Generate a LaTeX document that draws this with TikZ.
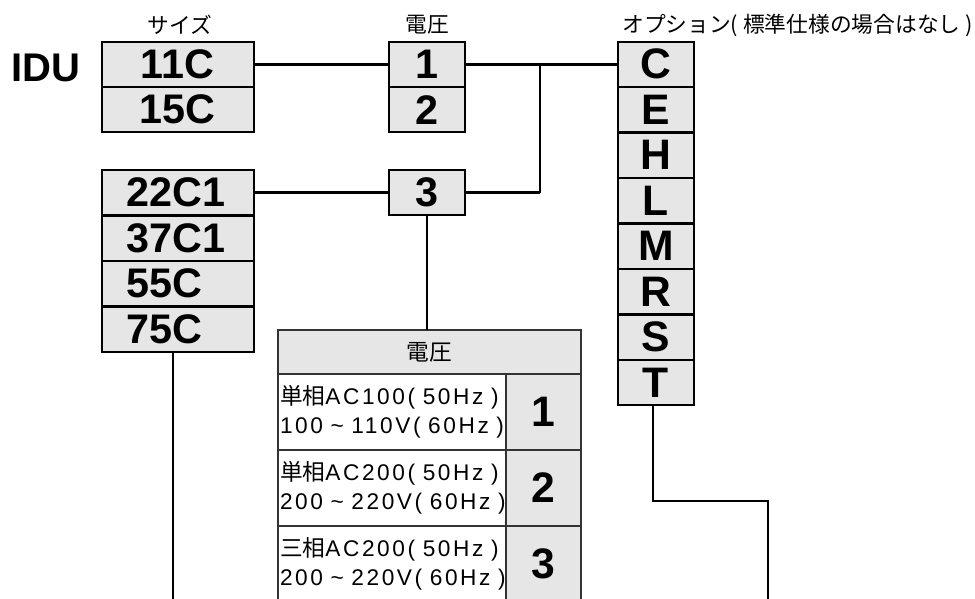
\documentclass[tikz,border=0pt]{standalone}
\usepackage{fontspec}
\setmainfont{Liberation Sans}
\newfontfamily\jp{Noto Sans CJK JP}
\newfontfamily\wide[LetterSpace=11.5]{Liberation Sans}
\usetikzlibrary{positioning}

\definecolor{boxgray}{HTML}{E6E6E6}
\definecolor{tabline}{HTML}{333333}

\begin{document}
\begin{tikzpicture}[x=0.75pt,y=-0.75pt,
  code/.style={draw,line width=1.5pt,fill=boxgray,inner sep=0pt,outer sep=0pt,
    minimum height=34.1pt,font=\bfseries\fontsize{31}{31}\selectfont},
  sizebox/.style={code,minimum width=114pt},
  lowbox/.style={text width=76pt,inner xsep=19pt,align=left},
  voltbox/.style={code,minimum width=57pt},
  optbox/.style={code,minimum width=57pt,font=\bfseries\fontsize{32}{32}\selectfont},
  head/.style={font=\jp\fontsize{16.3}{18}\selectfont,inner sep=0pt},
  tabcell/.style={draw=tabline,line width=1.1pt,inner sep=0pt,outer sep=0pt,minimum height=57pt},
  link/.style={line width=2.2pt},
  drop/.style={line width=1.5pt}]

\useasboundingbox (0,0) rectangle (975,599);

% The titles
\node[font=\bfseries\fontsize{30}{30}\selectfont,inner sep=0pt] (idu) at (46,68) {IDU};
\node[head] (tsize) at (180,25) {サイズ};
\node[head] (tvolt) at (427,25) {電圧};
\node[head,anchor=west] (topt) at (622,25) {オプション( 標準仕様の場合はなし )};

% The size boxes
\node[sizebox] (s11) at (177.5,64.25) {11C};
\node[sizebox] (s15) at (177.5,109.75) {15C};
\foreach \sz [count=\i from 0] in {22C1,37C1,55C,75C}
  \node[sizebox,lowbox] (s\sz) at (177.5,192.75+45.5*\i) {\sz};

% The voltage boxes
\node[voltbox] (v1) at (427,64.25) {1};
\node[voltbox] (v2) at (427,109.75) {2};
\node[voltbox] (v3) at (427,192.75) {3};

% The option boxes
\foreach \opt [count=\i from 0] in {C,E,H,L,M,R,S,T}
  \node[optbox] (o\opt) at (656,64.25+45.5*\i) {\opt};

% The voltage table
\node[tabcell,fill=boxgray,minimum width=227.25pt,minimum height=33pt,
  font=\jp\fontsize{17}{18}\selectfont] (th) at (429.5,352) {電圧};
\foreach \n/\y/\kind/\a/\b in {1/412/単相/AC100( 50Hz )/100 \textasciitilde{} 110V( 60Hz ),
  2/488/単相/AC200( 50Hz )/200 \textasciitilde{} 220V( 60Hz ),
  3/564/三相/AC200( 50Hz )/200 \textasciitilde{} 220V( 60Hz )}
{
  \node[tabcell,fill=white,minimum width=171pt,text width=168pt,inner xsep=1.5pt,
    align=left,font=\wide\fontsize{17}{21.5}\selectfont] (r\n) at (392,\y)
    {\mbox{{\jp\kind}\a}\\\mbox{\b}};
  \node[tabcell,fill=boxgray,minimum width=56.25pt,
    font=\bfseries\fontsize{32}{32}\selectfont] (n\n) at (543.5,\y) {\n};
}

% The connectors
\coordinate (j) at (540,64.25);
\coordinate (end1) at (173,599);
\coordinate (turn) at (768,501);
\coordinate (end2) at (768,599);
\draw[link] (s11.east) -- (v1.west);
\draw[link] (v1.east) -- (oC.west);
\draw[link] (s22C1.east) -- (v3.west);
\draw[link] (v3.east) -- (j |- v3.east);
\draw[drop] (j |- v3.east) -- (j);
\draw[drop] (v3.south) -- (v3.south |- th.north);
\draw[drop] (s75C.south -| end1) -- (end1);
\draw[drop] (oT.south -| 653,0) |- (turn) -- (end2);

\end{tikzpicture}
\end{document}
